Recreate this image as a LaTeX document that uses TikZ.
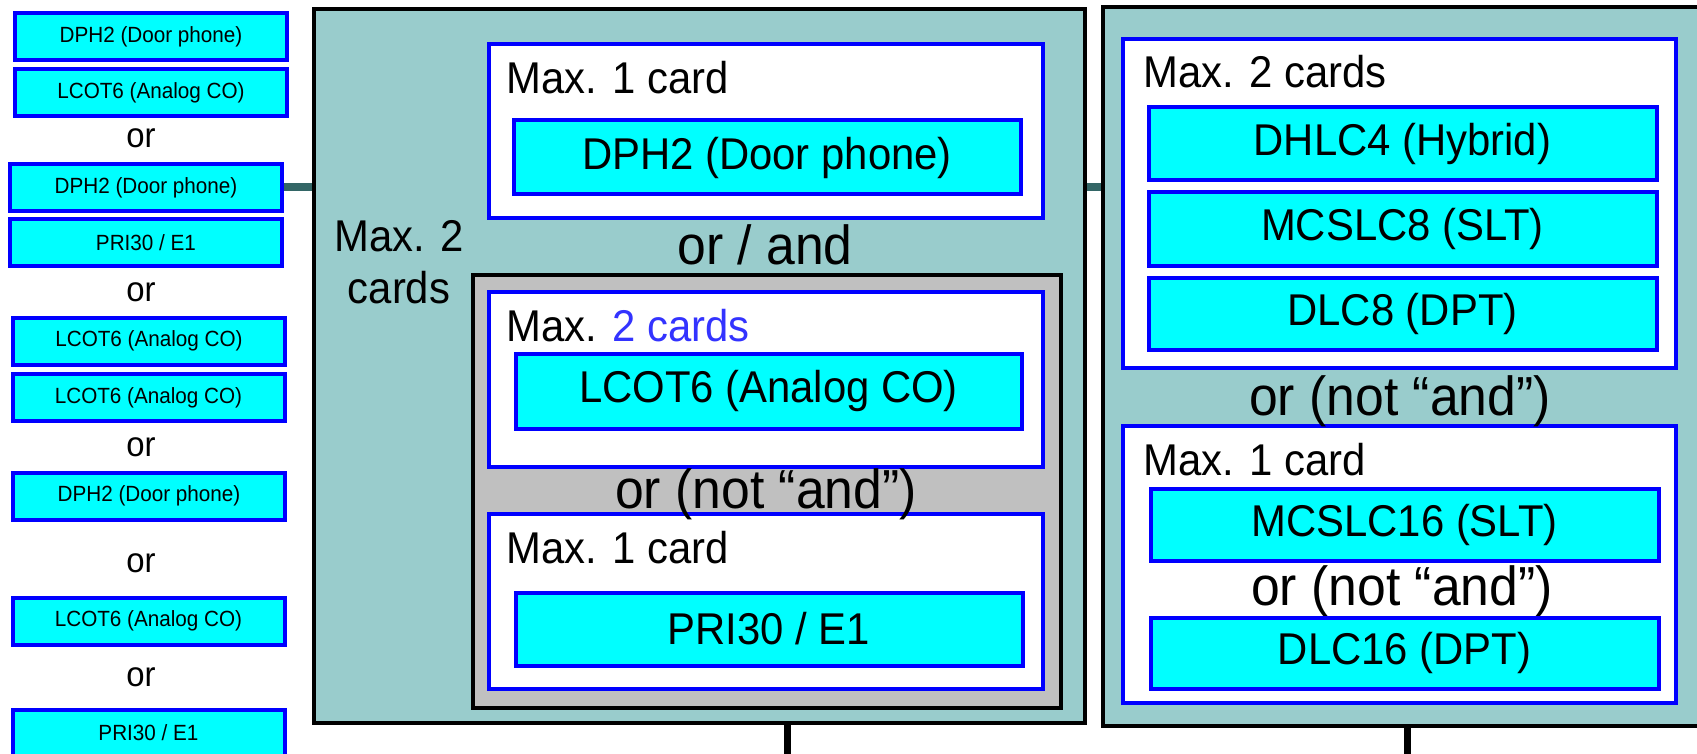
\documentclass[tikz,border=0pt]{standalone}
\usepackage{fontspec}
\setmainfont[FakeStretch=0.94]{Liberation Sans}
\definecolor{cardcyan}{HTML}{00FFFF}
\definecolor{cardblue}{HTML}{0000FF}
\definecolor{shelfteal}{HTML}{99CCCC}
\definecolor{slotgray}{HTML}{C0C0C0}
\definecolor{linkteal}{HTML}{336666}
\definecolor{noteblue}{HTML}{3333FF}
\newcommand\cardfont{\fontsize{44.5}{52}\selectfont}
\newcommand\smallcardfont{\fontsize{22}{26}\selectfont}
\newcommand\ornotefont{\fontsize{55}{62}\selectfont}
\newcommand\smallorfont{\fontsize{35}{40}\selectfont}

\begin{document}
\begin{tikzpicture}[x=1pt, y=-1pt,
    shelf/.style={draw=black, fill=shelfteal, line width=4pt, inner sep=0pt},
    slot/.style={draw=black, fill=slotgray, line width=4pt, inner sep=0pt},
    group/.style={draw=cardblue, fill=white, line width=4pt, inner sep=0pt},
    card/.style={draw=cardblue, fill=cardcyan, line width=4pt, inner sep=0pt, font=\cardfont},
    smallcard/.style={card, minimum width=272pt, minimum height=47pt, font=\smallcardfont},
    maxnote/.style={anchor=base west, inner sep=0pt, font=\cardfont},
    ornote/.style={anchor=base, inner sep=0pt, font=\ornotefont},
    smallor/.style={anchor=base, inner sep=0pt, font=\smallorfont},
    link/.style={draw=linkteal, line width=8pt},
    foot/.style={draw=black, line width=7pt}]
    \useasboundingbox (0,0) rectangle (1697,754);

    % left column
    \node[smallcard] (l1) at (151,37) {DPH2 (Door phone)};
    \node[smallcard] (l2) at (151,93) {LCOT6 (Analog CO)};
    \node[smallor] (or1) at (141,148) {or};
    \node[smallcard] (l3) at (146,187.5) {DPH2 (Door phone)};
    \node[smallcard] (l4) at (146,242.5) {PRI30 / E1};
    \node[smallor] (or2) at (141,301) {or};
    \node[smallcard] (l5) at (149,341) {LCOT6 (Analog CO)};
    \node[smallcard] (l6) at (148.5,397.5) {LCOT6 (Analog CO)};
    \node[smallor] (or3) at (141,456) {or};
    \node[smallcard] (l7) at (149,496) {DPH2 (Door phone)};
    \node[smallor] (or4) at (141,572) {or};
    \node[smallcard] (l8) at (148.5,621) {LCOT6 (Analog CO)};
    \node[smallor] (or5) at (141,686) {or};
    \node[smallcard] (l9) at (148.5,733) {PRI30 / E1};

    % middle shelf
    \node[shelf, minimum width=771pt, minimum height=713pt] (mid) at (699,366) {};
    \node[anchor=center, align=center, font=\cardfont, inner sep=0pt] (midmax) at (399,262) {Max. 2\\cards};
    \node[slot, minimum width=588pt, minimum height=433pt] (slot) at (767,491) {};
    \node[group, minimum width=554pt, minimum height=174pt] (dphgroup) at (765.5,131.5) {};
    \node[maxnote] (dphmax) at (506,94) {Max. 1 card};
    \node[card, minimum width=507pt, minimum height=74pt] (dph) at (767,157.5) {DPH2 (Door phone)};
    \node[ornote] (orand) at (765,264) {or / and};
    \node[group, minimum width=554pt, minimum height=175pt] (lcotgroup) at (765.5,379) {};
    \node[maxnote] (lcotmax) at (506,341) {Max. \textcolor{noteblue}{2 cards}};
    \node[card, minimum width=506pt, minimum height=75pt] (lcot) at (768.5,391) {LCOT6 (Analog CO)};
    \node[group, minimum width=554pt, minimum height=175pt] (prigroup) at (765.5,601.5) {};
    \node[maxnote] (primax) at (506,563) {Max. 1 card};
    \node[card, minimum width=507pt, minimum height=73pt] (pri) at (769,629) {PRI30 / E1};
    \node[ornote] (midornot) at (766,508) {or (not “and”)};

    % right shelf
    \node[shelf, minimum width=607pt, minimum height=718pt] (right) at (1406,366.5) {};
    \node[group, minimum width=553pt, minimum height=328pt] (slcgroup) at (1399,203.5) {};
    \node[maxnote] (slcmax) at (1143,88) {Max. 2 cards};
    \node[card, minimum width=508pt, minimum height=73pt] (dhlc) at (1402.5,144) {DHLC4 (Hybrid)};
    \node[card, minimum width=508pt, minimum height=73pt] (mcslc8) at (1402.5,229) {MCSLC8 (SLT)};
    \node[card, minimum width=508pt, minimum height=72pt] (dlc8) at (1402.5,313.5) {DLC8 (DPT)};
    \node[group, minimum width=553pt, minimum height=277pt] (bigslcgroup) at (1399,564) {};
    \node[ornote] (rightornot) at (1400,415) {or (not “and”)};
    \node[maxnote] (bigslcmax) at (1143,475) {Max. 1 card};
    \node[card, minimum width=508pt, minimum height=72pt] (mcslc16) at (1404.5,524.5) {MCSLC16 (SLT)};
    \node[ornote] (bigornot) at (1402,605) {or (not “and”)};
    \node[card, minimum width=508pt, minimum height=71pt] (dlc16) at (1404.5,653) {DLC16 (DPT)};

    \draw[link] (l3.east) -- (l3.east -| mid.west);
    \draw[link] (mid.east |- l3.east) -- (right.west |- l3.east);

    \coordinate (midfoot) at (787,760);
    \coordinate (rightfoot) at (1407,760);
    \draw[foot] (mid.south -| midfoot) -- (midfoot);
    \draw[foot] (right.south -| rightfoot) -- (rightfoot);
  \end{tikzpicture}
\end{document}
